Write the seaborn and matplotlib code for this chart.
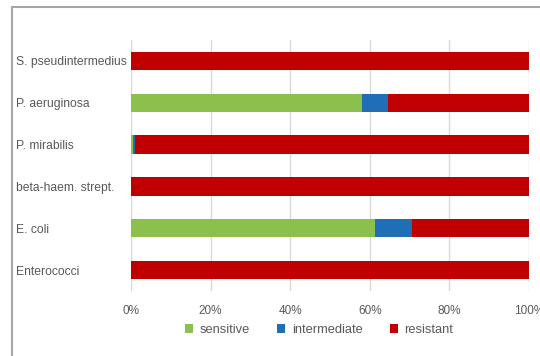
import matplotlib
matplotlib.use("Agg")
import matplotlib.pyplot as plt
from matplotlib.patches import Rectangle, Patch
import numpy as np
import pandas as pd
import seaborn as sns

# Susceptibility shares per organism (percent of isolates)
organisms = ["S. pseudintermedius", "P. aeruginosa", "P. mirabilis",
             "beta-haem. strept.", "E. coli", "Enterococci"]
sensitive = [0.0, 58.1, 0.5, 0.0, 61.2, 0.0]
intermediate = [0.0, 6.4, 0.6, 0.0, 9.5, 0.0]
resistant = [100.0, 35.5, 98.9, 100.0, 29.3, 100.0]

categories = ["sensitive", "intermediate", "resistant"]
colors = ["#8BC04C", "#1F6EB6", "#C00000"]
xtick_vals = [0, 20, 40, 60, 80, 100]
xtick_labels = ["0%", "20%", "40%", "60%", "80%", "100%"]

sns.set_theme(style="white")
plt.rcParams["font.family"] = ["Liberation Sans", "DejaVu Sans"]
text_color = "#595959"

fig = plt.figure(figsize=(5.4, 3.56), dpi=100)
ax = fig.add_axes([131 / 540, 1 - 291 / 356, 398 / 540, 251 / 356])

df = pd.DataFrame({"organism": organisms, "sensitive": sensitive,
                   "intermediate": intermediate, "resistant": resistant})
df["cum_s"] = df["sensitive"]
df["cum_i"] = df["sensitive"] + df["intermediate"]
df["cum_r"] = df["cum_i"] + df["resistant"]

# Stacked bars: draw the full stack first, then overlay the shorter segments
for col, c in [("cum_r", colors[2]), ("cum_i", colors[1]), ("cum_s", colors[0])]:
    sns.barplot(data=df, x=col, y="organism", order=organisms, color=c,
                orient="h", width=0.44, saturation=1, ax=ax, linewidth=0,
                zorder=3)

ax.set_xlim(0, 100)
ax.set_ylim(5.5, -0.5)
ax.set_xticks(xtick_vals, xtick_labels)
ax.xaxis.grid(True, color="#D9D9D9", linewidth=1, zorder=0)
ax.yaxis.grid(False)
for s in ax.spines.values():
    s.set_visible(False)
ax.set_xlabel("")
ax.set_ylabel("")
ax.tick_params(axis="x", length=0, pad=10, labelsize=8.5, labelcolor=text_color)
ax.tick_params(axis="y", length=0, pad=(131 - 16) * 0.72, labelsize=8.7,
               labelcolor=text_color)
for lbl in ax.get_yticklabels():
    lbl.set_horizontalalignment("left")

handles = [Patch(facecolor=c, edgecolor="none") for c in colors]
fig.legend(handles, categories, loc="center", ncol=3, frameon=False,
           bbox_to_anchor=(319 / 540, 1 - 330 / 356), fontsize=9.3,
           labelcolor=text_color, handlelength=0.65, handleheight=0.75,
           handletextpad=0.5, columnspacing=2.1)

# Outer chart frame
fig.patches.append(Rectangle((12 / 540, -0.1), 1.0, 0.1 + (1 - 7 / 356),
                             transform=fig.transFigure, fill=False,
                             edgecolor="#A6A6A6", linewidth=1.5))

fig.savefig("out.png", dpi=100)
